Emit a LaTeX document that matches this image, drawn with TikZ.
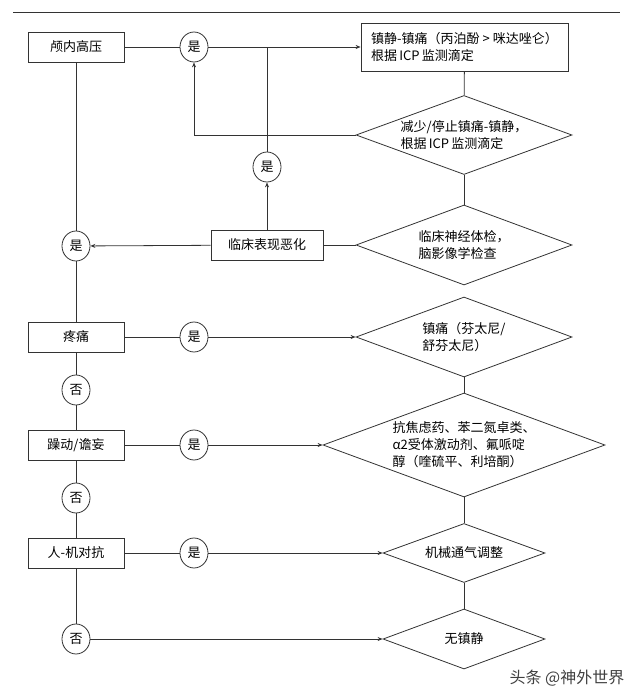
\documentclass[tikz,border=0pt]{standalone}
\usepackage{fontspec}
\setmainfont{Noto Sans CJK SC}
\usetikzlibrary{shapes.geometric,arrows.meta}

\begin{document}
\begin{tikzpicture}[x=1pt,y=-1pt,
    every node/.style={font=\fontsize{13}{17}\selectfont},
    box/.style={draw=black!80, line width=0.8pt, minimum width=96pt, minimum height=30pt, inner sep=2pt},
    ring/.style={draw=black!80, line width=0.8pt, ellipse, minimum width=28pt, minimum height=30pt, inner sep=0pt},
    dia/.style={draw=black!80, line width=0.8pt, diamond, inner sep=0pt},
    txt/.style={align=left, inner sep=0pt},
    link/.style={draw=black!80, line width=0.8pt},
    go/.style={link, -{Stealth[length=5pt,width=4pt]}}]
    \useasboundingbox (0,0) rectangle (640,699);
    \draw[link] (13,12) -- (620,12);% top rule
    % left column
    \node[box] (icp) at (76,47) {颅内高压};
    \node[ring] (y3) at (76,246) {是};
    \node[box] (pain) at (76,337) {疼痛};
    \node[ring] (n1) at (76,390) {否};
    \node[box] (agit) at (76,445) {躁动/谵妄};
    \node[ring] (n2) at (76,498) {否};
    \node[box] (vent) at (76,553) {人-机对抗};
    \node[ring] (n3) at (76,639) {否};
    % yes circles
    \node[ring] (y1) at (194,47) {是};
    \node[ring] (y4) at (194,337) {是};
    \node[ring] (y5) at (194,445) {是};
    \node[ring] (y6) at (194,553) {是};
    \node[ring] (y2) at (267,167) {是};
    \node[box, minimum width=112pt] (worse) at (267,245) {临床表现恶化};
    % right column
    \node[box, minimum width=207pt, minimum height=48pt, align=left] (sed) at (464.5,47)
        {镇静-镇痛（丙泊酚 > 咪达唑仑）\\根据\,ICP\,监测滴定};
    \node[dia, minimum width=216pt, minimum height=79pt,
        label={[txt]center:{减少/停止镇痛-镇静，\\根据\,ICP\,监测滴定}}] (d1) at (464,135) {};
    \node[dia, minimum width=216pt, minimum height=80pt,
        label={[txt]center:{临床神经体检，\\脑影像学检查}}] (d2) at (464,245) {};
    \node[dia, minimum width=216pt, minimum height=80pt,
        label={[txt]center:{镇痛（芬太尼/\\舒芬太尼）}}] (d3) at (464,337) {};
    \node[dia, minimum width=282pt, minimum height=104pt,
        label={[txt]center:{抗焦虑药、苯二氮卓类、\\α2受体激动剂、氟哌啶\\醇（喹硫平、利培酮）}}] (d4) at (464,445) {};
    \node[dia, minimum width=162pt, minimum height=59pt,
        label={[txt]center:机械通气调整}] (d5) at (464,553) {};
    \node[dia, minimum width=162pt, minimum height=60pt,
        label={[txt]center:无镇静}] (d6) at (464,639) {};
    \node[text=black!75, font=\fontsize{16}{18}\selectfont] (mark) at (567,678) {头条 @神外世界};
    % connectors
    \coordinate (j1) at (y2 |- y1);
    \draw[link] (icp) -- (y1);
    \draw[go] (y1) -- (sed);
    \draw[link] (y2) -- (j1);
    \draw[link] (sed) -- (d1);
    \draw[go] (d1.west) -| (y1.south);
    \draw[link] (d1) -- (d2);
    \draw[link] (d2) -- (worse);
    \draw[go] (worse) -- (y2);
    \draw[go] (worse) -- (y3);
    \draw[link] (icp) -- (y3) -- (pain) -- (n1) -- (agit) -- (n2) -- (vent) -- (n3);
    \draw[link] (pain) -- (y4);
    \draw[go] (y4) -- (d3);
    \draw[link] (d3) -- (d4) -- (d5) -- (d6);
    \draw[link] (agit) -- (y5);
    \draw[go] (y5) -- (d4);
    \draw[link] (vent) -- (y6);
    \draw[go] (y6) -- (d5);
    \draw[go] (n3) -- (d6);
\end{tikzpicture}
\end{document}
